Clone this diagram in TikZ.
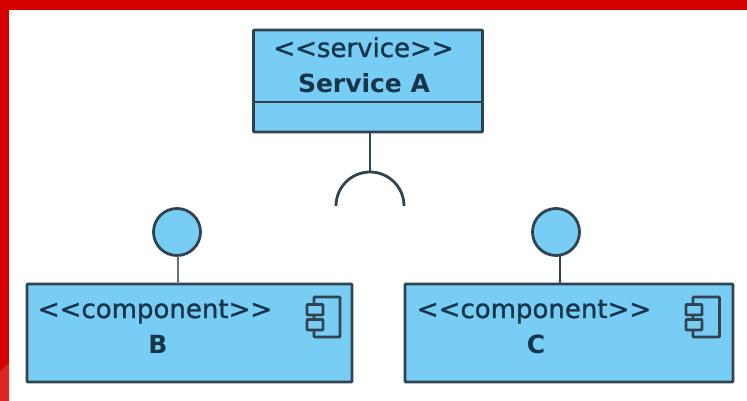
\documentclass[tikz,border=0pt]{standalone}
\usepackage{fontspec}
\setmainfont{DejaVu Sans}
\newfontfamily\stereofont[FakeBold=1.2]{DejaVu Sans}
\definecolor{fillblue}{HTML}{78CDF5}
\definecolor{edgedark}{HTML}{2F4450}
\definecolor{textdark}{HTML}{17354A}
\definecolor{frame}{HTML}{D60000}
\tikzset{
  x=1pt,y=-1pt,
  umlbox/.style={draw=edgedark,fill=fillblue,line width=2.8pt,rounded corners=0.8pt,minimum width=#1,inner sep=0pt,outer sep=0pt,anchor=north west},
  lollipop/.style={circle,draw=edgedark,fill=fillblue,line width=2.8pt,minimum size=47pt,inner sep=0pt,outer sep=0pt},
  wire/.style={draw=edgedark,line width=2.8pt},
  iconpart/.style={draw=edgedark,fill=fillblue,line width=2.6pt,rounded corners=0.6pt},
  stereotxt/.style={text=textdark,font=\stereofont\fontsize{26}{26}\selectfont,inner sep=0pt,anchor=base},
  nametxt/.style={text=textdark,font=\fontsize{25}{25}\selectfont\bfseries,inner sep=0pt,anchor=base}
}
\begin{document}
\begin{tikzpicture}
\useasboundingbox (0,0) rectangle (747,401);
\fill[white] (0,0) rectangle (747,401);
\fill[frame] (0,0) rectangle (747,10);
\fill[frame] (0,0) rectangle (9,401);
\fill[frame!85!white] (0,401) -- (0,372) .. controls (3,367) and (6,365) .. (9,364) -- (9,401) -- cycle;
% Service A
\node[umlbox=229pt,minimum height=102pt] (svc) at (253.5,30) {};
\draw[wire] (253.5,102) -- (482.5,102);
\node[stereotxt] (svcs) at (363.5,57) {<{}<service>{}>};
\node[nametxt] (svcn) at (364,92.5) {Service A};
% required interface
\coordinate (arctop) at (370,173);
\draw[wire] (svc.south -| arctop) -- (arctop);
\draw[wire] (336,206) arc[start angle=180,end angle=360,radius=34];
% B
\node[umlbox=325pt,minimum height=98pt] (b) at (27,284) {};
\node[lollipop] (bc) at (177,232) {};
\draw[wire,draw=edgedark!75] (bc.south -| 178,0) -- (b.north -| 178,0);
\node[stereotxt] (bs) at (155,318) {<{}<component>{}>};
\node[nametxt] (bn) at (158,353) {B};
\draw[iconpart] (314,297) rectangle (340,337);
\draw[iconpart] (307,304.5) rectangle (323,315);
\draw[iconpart] (307,319.5) rectangle (323,330);
% C
\node[umlbox=328pt,minimum height=98pt] (c) at (405,284) {};
\node[lollipop] (cc) at (556,232) {};
\draw[wire] (cc.south -| 560,0) -- (c.north -| 560,0);
\node[stereotxt] (cs) at (534,318) {<{}<component>{}>};
\node[nametxt] (cn) at (536,353) {C};
\draw[iconpart] (693,297) rectangle (719.5,337);
\draw[iconpart] (686,304.5) rectangle (702,315);
\draw[iconpart] (686,319.5) rectangle (702,330);
\end{tikzpicture}
\end{document}
